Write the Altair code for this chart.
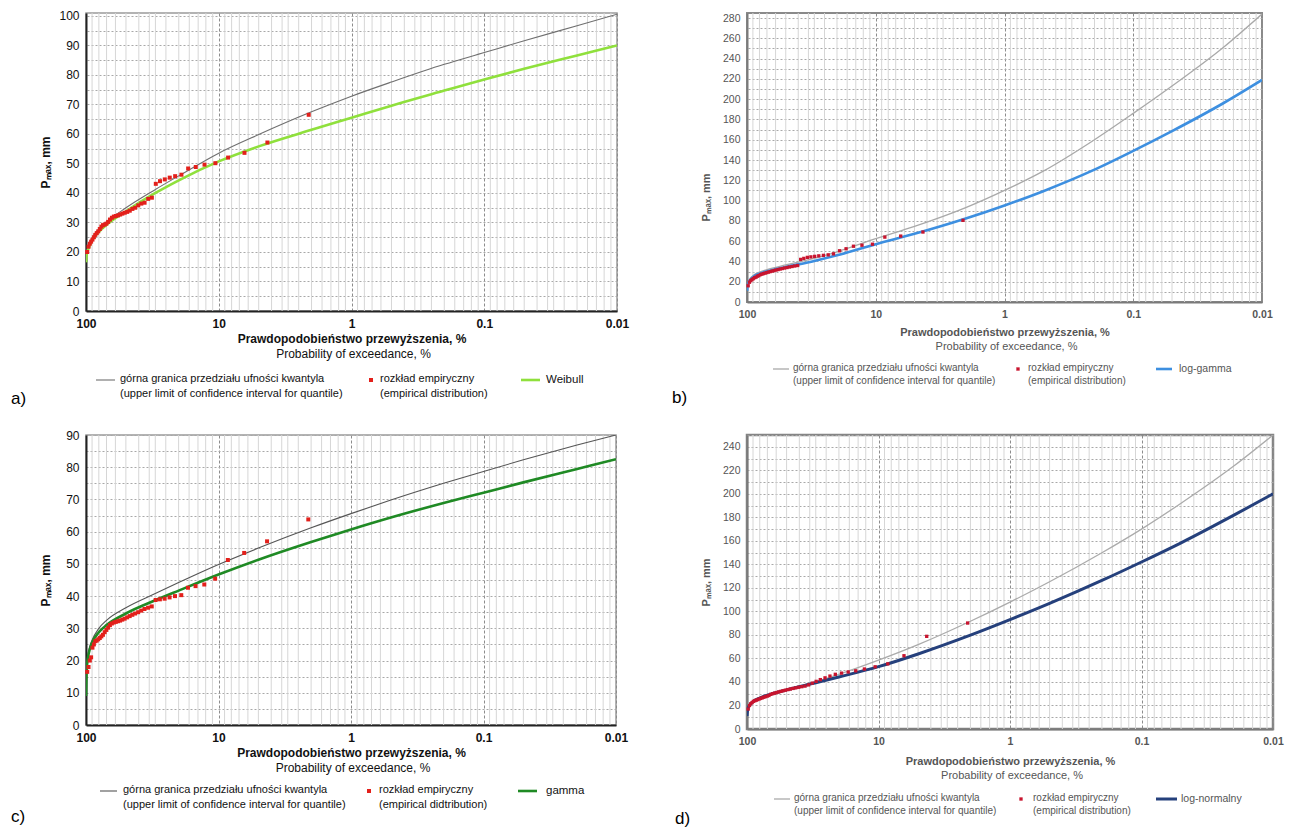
import altair as alt
import pandas as pd

# ---------------- data ----------------
# exceedance probability of the empirical points (%), same record length in all panels
P_EMP = [2.1, 4.3, 6.4, 8.5, 10.6, 12.8, 14.9, 17.0, 19.1, 21.3, 23.4, 25.5, 27.7, 29.8,
         31.9, 34.0, 36.2, 38.3, 40.4, 42.6, 44.7, 46.8, 48.9, 51.1, 53.2, 55.3, 57.4,
         59.6, 61.7, 63.8, 66.0, 68.1, 70.2, 72.3, 74.5, 76.6, 78.7, 80.9, 83.0, 85.1,
         87.2, 89.4, 91.5, 93.6, 95.7, 97.9]
# exceedance probabilities at which the curves were read (%)
CURVE_P = [99.9, 99, 97, 95, 90, 80, 70, 50, 30, 20, 10, 5, 2, 1, 0.5, 0.2, 0.1, 0.05, 0.02, 0.01]

X_TICKS = [100, 10, 1, 0.1, 0.01]
# minor vertical grid: log steps and return-period steps
X_MINOR = [90, 80, 70, 60, 50, 40, 30, 20,
           9, 8, 7, 6, 5, 4, 3, 2,
           0.9, 0.8, 0.7, 0.6, 0.5, 0.4, 0.3, 0.2,
           0.09, 0.08, 0.07, 0.06, 0.05, 0.04, 0.03, 0.02,
           33.33, 25, 16.67, 14.29, 12.5, 11.11,
           3.333, 2.5, 1.667, 1.429, 1.25, 1.111,
           0.3333, 0.25, 0.1667, 0.1429, 0.125, 0.1111,
           0.03333, 0.025, 0.01667, 0.01429, 0.0125, 0.01111]

# a) Weibull
A_EMP = [66.5, 57.1, 53.6, 52.0, 50.1, 49.6, 48.8, 48.3, 46.2, 45.7, 45.2, 44.6, 44.0, 43.1,
         38.4, 38.0, 36.7, 36.4, 35.8, 35.0, 34.6, 34.0, 33.6, 33.3, 33.0, 32.7, 32.4, 32.2,
         32.0, 31.6, 31.0, 30.2, 29.6, 29.3, 29.1, 28.6, 27.8, 27.0, 26.4, 25.8, 25.0, 24.2,
         23.5, 22.8, 21.8, 20.0]
A_UPPER = [17, 20, 21.5, 22.5, 24.8, 27.8, 30.2, 35.0, 41.2, 45.8, 53.5, 59.8, 67.5, 72.8,
           77.6, 83.6, 87.6, 91.6, 96.7, 100.6]
A_FIT = [16.5, 19, 20.5, 21.5, 24, 26.8, 29.2, 33.8, 40, 44.3, 50.7, 55.8, 61.4, 65.5,
         69.6, 74.7, 78.5, 82.1, 86.6, 90]

# b) log-gamma
B_EMP = [80.5, 69.0, 65.0, 64.0, 57.0, 56.0, 55.0, 52.5, 50.5, 47.5, 46.5, 46.0, 45.5, 45.0,
         44.5, 44.0, 43.0, 42.0, 36.0, 35.5, 35.0, 34.5, 34.0, 33.5, 33.0, 32.5, 32.0, 31.5,
         31.0, 30.5, 30.0, 29.5, 29.0, 28.5, 28.0, 27.5, 27.0, 26.0, 25.5, 24.5, 24.0, 23.0,
         22.0, 21.0, 19.5, 16.0]
B_UPPER = [12, 17, 21, 23, 26, 29.5, 32, 36.5, 43, 49.5, 62.5, 74.5, 93, 110, 129, 160,
           186, 213, 251, 284]
B_FIT = [11, 16, 19.5, 21.5, 24.5, 28, 30.3, 34.5, 40.5, 46, 57, 67.2, 82.3, 95.2, 109.3,
         130.5, 149, 168.5, 196, 219]

# c) gamma
C_EMP = [63.8, 57.0, 53.4, 51.2, 45.4, 43.6, 43.1, 42.6, 40.3, 40.0, 39.6, 39.2, 39.0, 38.8,
         36.8, 36.4, 36.0, 35.5, 35.0, 34.6, 34.2, 33.8, 33.4, 33.0, 32.7, 32.4, 32.2, 32.0,
         31.8, 31.5, 31.0, 30.2, 29.5, 28.8, 28.0, 27.5, 27.0, 26.6, 26.2, 26.0, 25.0, 24.0,
         21.0, 20.0, 18.0, 16.5]
C_UPPER = [10, 17.5, 21.5, 23.5, 26.3, 30, 32.5, 36.4, 40.8, 44.2, 49.8, 54.9, 61.2, 65.6,
           69.8, 75, 78.7, 82.3, 86.8, 90]
C_FIT = [9, 16.5, 20.5, 22.5, 25.5, 28.8, 31, 34.6, 38.7, 41.7, 46.7, 51.3, 56.8, 60.7,
         64.4, 68.9, 72.1, 75.3, 79.4, 82.5]

# d) log-normal
D_EMP = [90.1, 78.8, 62.3, 55.4, 52.9, 51.0, 49.5, 48.5, 47.5, 46.5, 45.0, 43.5, 42.0, 40.5,
         39.0, 37.5, 36.5, 36.0, 35.5, 35.0, 34.5, 34.0, 33.5, 33.0, 32.5, 32.0, 31.5, 31.0,
         30.5, 30.0, 29.5, 28.5, 28.0, 27.5, 27.0, 26.5, 26.0, 25.5, 25.0, 24.5, 24.0, 23.5,
         22.5, 21.5, 20.0, 17.0]
D_UPPER = [11, 16.2, 19.3, 21, 23.5, 26.6, 29.2, 33.6, 40.3, 46.5, 58.5, 71.7, 91.6, 107.9,
           125.2, 149.9, 170, 192, 223.4, 250]
D_FIT = [11, 16, 19, 20.5, 23.2, 26.3, 28.7, 33.3, 39.3, 44.2, 53, 63.8, 79.8, 93, 106.8,
         126.3, 142, 158.3, 181.6, 200]

# texts
Y_TITLE = "Pₘₐₓ, mm"
X_TITLE = "Prawdopodobieństwo przewyższenia, %"
X_SUBTITLE = "Probability of exceedance, %"
LEG_UPPER = "górna granica przedziału ufności kwantyla\n(upper limit of confidence interval for quantile)"
LEG_EMP = ["rozkład empiryczny\n(empirical distribution)",
           "rozkład empiryczny\n(empirical distribution)",
           "rozkład empiryczny\n(empirical didtribution)",
           "rozkład empiryczny\n(empirical distribution)"]
FIT_NAMES = ["Weibull", "log-gamma", "gamma", "log-normalny"]
LETTERS = ["a)", "b)", "c)", "d)"]

# ---------------- styles ----------------
STYLES = [
    dict(w=531, h=298, ymax=101, ygrid=5, ylab=10, fit="#8fe03c", fitw=2.6, gray="#6f6f6f", grayw=1.1,
         red="#e3201b", ptsize=16, lab=12, tit=12, leg=11, lh=15, txt="#111111", dom="#222222",
         frame="#9a9a9a", fw=1.5, leg_x=(10, 29, 34, 285, 294, 435, 454, 460), leg_y=69, t_y=27, s_y=43,
         let_x=-75, let_y=88, ytitle_y=None),
    dict(w=515, h=289, ymax=285, ygrid=10, ylab=20, fit="#3d8fe0", fitw=2.6, gray="#a9a9a9", grayw=1.3,
         red="#c8142e", ptsize=11, lab=10.5, tit=11, leg=10, lh=13, txt="#555555", dom="#7a7a7a",
         frame="#8a8a8a", fw=2, leg_x=(26, 42, 46, 271, 281, 409, 425, 432), leg_y=67, t_y=30, s_y=45,
         let_x=-75, let_y=96, ytitle_y=184),
    dict(w=530, h=290, ymax=90, ygrid=5, ylab=10, fit="#1f8a24", fitw=2.6, gray="#555555", grayw=1.1,
         red="#e3201b", ptsize=16, lab=12, tit=12, leg=11, lh=15, txt="#111111", dom="#222222",
         frame="#9a9a9a", fw=1.5, leg_x=(14, 31, 37, 283, 293, 432, 451, 460), leg_y=66, t_y=27, s_y=43,
         let_x=-75, let_y=92, ytitle_y=None),
    dict(w=526, h=294, ymax=250, ygrid=10, ylab=20, fit="#25407c", fitw=3, gray="#ababab", grayw=1.3,
         red="#c8142e", ptsize=11, lab=10.5, tit=11, leg=10, lh=13, txt="#555555", dom="#7a7a7a",
         frame="#858585", fw=2.5, leg_x=(27, 43, 47, 274, 286, 409, 430, 434), leg_y=70, t_y=32, s_y=47,
         let_x=-72, let_y=90, ytitle_y=None),
]

PANELS = [(A_EMP, A_UPPER, A_FIT), (B_EMP, B_UPPER, B_FIT), (C_EMP, C_UPPER, C_FIT), (D_EMP, D_UPPER, D_FIT)]


def panel(i):
    s = STYLES[i]
    emp, upper, fit = PANELS[i]
    w, h = s["w"], s["h"]
    xs = alt.Scale(type="log", domain=[0.01, 100], reverse=True, nice=False)
    ys = alt.Scale(domain=[0, s["ymax"]], nice=False, zero=True)
    y_vals = list(range(0, int(s["ymax"]) + 1, s["ygrid"]))

    yaxis_kw = dict(
        values=y_vals, labelExpr=f"datum.value % {s['ylab']} === 0 ? datum.label : ''",
        title=Y_TITLE, titleFontWeight="bold", titleFontSize=s["tit"], titleColor=s["txt"],
        titleX=-41, titleBaseline="middle", titleAngle=270,
        labelFontSize=s["lab"], labelColor=s["txt"], labelPadding=7, ticks=False,
        grid=True, gridColor="#a8a8a8", gridDash=[2, 2], gridWidth=1,
        domainColor=s["dom"], domainWidth=2,
    )
    if s["ytitle_y"] is not None:
        yaxis_kw["titleY"] = s["ytitle_y"]
    y_axis = alt.Axis(**yaxis_kw)
    x_axis = alt.Axis(
        values=X_TICKS, format="~g", title=X_TITLE, titleFontWeight="bold",
        titleFontSize=s["tit"], titleColor=s["txt"], titleY=s["t_y"], titleBaseline="middle",
        labelFontWeight="bold", labelFontSize=s["lab"], labelColor=s["txt"], labelPadding=7,
        labelFlush=False, labelOverlap=False, ticks=False,
        grid=True, gridColor="#8c8c8c", gridDash=[3, 2], gridWidth=1,
        domainColor=s["dom"], domainWidth=2,
    )

    grid = alt.Chart(pd.DataFrame({"p": X_MINOR})).mark_rule(
        color="#d6d6d6", strokeWidth=1
    ).encode(x=alt.X("p:Q", scale=xs, axis=x_axis))

    up_df = pd.DataFrame({"p": CURVE_P, "v": upper})
    fit_df = pd.DataFrame({"p": CURVE_P, "v": fit})
    emp_df = pd.DataFrame({"p": P_EMP, "v": emp})

    enc = dict(
        x=alt.X("p:Q", scale=xs, axis=x_axis),
        y=alt.Y("v:Q", scale=ys, axis=y_axis),
    )
    upper_line = alt.Chart(up_df).mark_line(
        color=s["gray"], strokeWidth=s["grayw"], interpolate="monotone", clip=True
    ).encode(order=alt.Order("p:Q", sort="descending"), **enc)
    fit_line = alt.Chart(fit_df).mark_line(
        color=s["fit"], strokeWidth=s["fitw"], interpolate="monotone", clip=True
    ).encode(order=alt.Order("p:Q", sort="descending"), **enc)
    pts = alt.Chart(emp_df).mark_square(
        size=s["ptsize"], color=s["red"], opacity=1
    ).encode(**enc)

    g1, g2, gt, rx, rt, f1, f2, ft = s["leg_x"]
    ly = h + s["leg_y"]
    ty = ly - s["leg"] * 0.62
    txt_kw = dict(align="left", baseline="top", lineBreak="\n", fontSize=s["leg"],
                  lineHeight=s["lh"], color=s["txt"])

    d_up = pd.DataFrame({"t": [LEG_UPPER]})
    d_emp = pd.DataFrame({"t": [LEG_EMP[i]]})
    d_fit = pd.DataFrame({"t": [FIT_NAMES[i]]})
    d_sub = pd.DataFrame({"t": [X_SUBTITLE]})
    d_let = pd.DataFrame({"t": [LETTERS[i]]})

    leg = [
        alt.Chart(d_up).mark_rule(color=s["gray"], strokeWidth=s["grayw"]).encode(
            x=alt.value(g1), x2=alt.value(g2), y=alt.value(ly)),
        alt.Chart(d_up).mark_text(**txt_kw).encode(
            x=alt.value(gt), y=alt.value(ty), text="t:N"),
        alt.Chart(d_emp).mark_square(size=s["ptsize"], color=s["red"], opacity=1).encode(
            x=alt.value(rx), y=alt.value(ly)),
        alt.Chart(d_emp).mark_text(**txt_kw).encode(
            x=alt.value(rt), y=alt.value(ty), text="t:N"),
        alt.Chart(d_fit).mark_rule(color=s["fit"], strokeWidth=s["fitw"]).encode(
            x=alt.value(f1), x2=alt.value(f2), y=alt.value(ly)),
        alt.Chart(d_fit).mark_text(align="left", baseline="middle", fontSize=s["leg"] + 0.5,
                                   color=s["txt"]).encode(
            x=alt.value(ft), y=alt.value(ly), text="t:N"),
        alt.Chart(d_sub).mark_text(align="center", baseline="middle", fontSize=s["tit"],
                                   color=s["txt"]).encode(
            x=alt.value(w / 2 + 2), y=alt.value(h + s["s_y"]), text="t:N"),
        alt.Chart(d_let).mark_text(align="left", baseline="middle", fontSize=17,
                                   color="#000000").encode(
            x=alt.value(s["let_x"]), y=alt.value(h + s["let_y"]), text="t:N"),
    ]

    return alt.layer(grid, upper_line, fit_line, pts, *leg).properties(
        width=w, height=h,
        view=alt.ViewBackground(stroke=s["frame"], strokeWidth=s["fw"]),
    )


chart = alt.concat(
    panel(0), panel(1), panel(2), panel(3),
    columns=2, spacing={"row": 124, "column": 130}, bounds="flush",
).properties(
    padding={"left": 10, "top": 9, "right": 2, "bottom": 0},
).configure(
    font="Liberation Sans",
)

chart.save("out.html", embed_options={"renderer": "svg", "actions": False})
